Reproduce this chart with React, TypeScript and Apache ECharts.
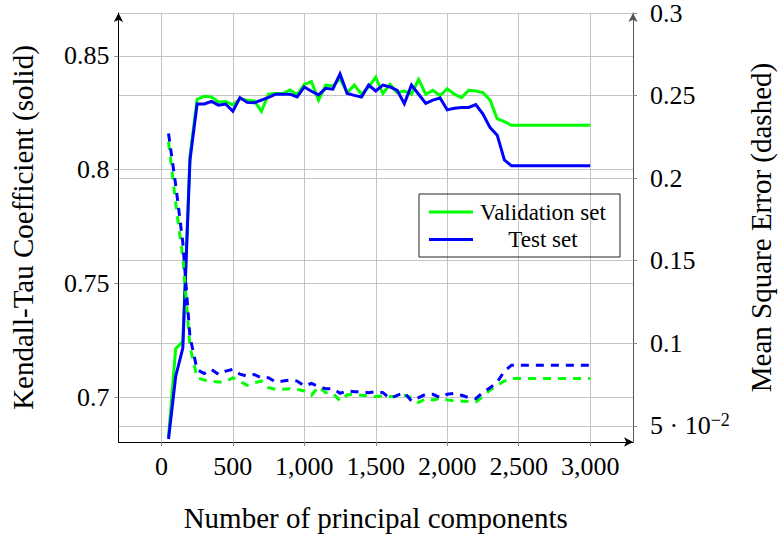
import React, { useEffect, useRef } from 'react';
import * as echarts from 'echarts';

const components = [50, 100, 150, 200, 250, 300, 350, 400, 450, 500, 550, 600, 650, 700, 750, 800, 850, 900, 950, 1000, 1050, 1100, 1150, 1200, 1250, 1300, 1350, 1400, 1450, 1500, 1550, 1600, 1650, 1700, 1750, 1800, 1850, 1900, 1950, 2000, 2050, 2100, 2150, 2200, 2250, 2300, 2350, 2400, 2450, 2500, 2550, 2600, 2650, 2700, 2750, 2800, 2850, 2900, 2950, 3000];

const validationKendall = [
  0.6825, 0.7213, 0.7245, 0.806, 0.831, 0.8323, 0.832, 0.8298, 0.83, 0.8285,
  0.8312, 0.8306, 0.8303, 0.8257, 0.8332, 0.8335, 0.8335, 0.8351, 0.833, 0.8375,
  0.8387, 0.8306, 0.8372, 0.8368, 0.8401, 0.8339, 0.8372, 0.8332, 0.8364, 0.8407,
  0.8335, 0.8375, 0.8339, 0.8346, 0.8332, 0.8397, 0.8332, 0.8349, 0.8325, 0.8356,
  0.8332, 0.8317, 0.8349, 0.8346, 0.8339, 0.8306, 0.8224, 0.8212,
  0.8195, 0.8195, 0.8195, 0.8195, 0.8195, 0.8195, 0.8195, 0.8195, 0.8195, 0.8195, 0.8195, 0.8195,
];

const testKendall = [
  0.6816, 0.7091, 0.7216, 0.8041, 0.8289, 0.8289, 0.83, 0.8284, 0.8289, 0.8257,
  0.8317, 0.8296, 0.8294, 0.8306, 0.8318, 0.8332, 0.8332, 0.8332, 0.832, 0.8364,
  0.8345, 0.8329, 0.8358, 0.8354, 0.8421, 0.8335, 0.8327, 0.832, 0.8372, 0.8346,
  0.8372, 0.8364, 0.8349, 0.829, 0.8372, 0.8332, 0.8292, 0.8306, 0.8315, 0.8263,
  0.827, 0.8274, 0.8274, 0.8286, 0.8245, 0.8185, 0.8152, 0.8043,
  0.8017, 0.8017, 0.8017, 0.8017, 0.8017, 0.8017, 0.8017, 0.8017, 0.8017, 0.8017, 0.8017, 0.8017,
];

const validationMSE = [
  0.222, 0.185, 0.152, 0.098, 0.0791, 0.0777, 0.0769, 0.0765, 0.0767, 0.0791,
  0.0769, 0.0745, 0.0761, 0.0771, 0.0731, 0.0721, 0.0721, 0.0725, 0.0721, 0.0711,
  0.0685, 0.0737, 0.0701, 0.0697, 0.0651, 0.0688, 0.0691, 0.0685, 0.0681, 0.0677,
  0.0681, 0.0677, 0.0677, 0.0685, 0.0671, 0.0641, 0.0665, 0.0657, 0.0665, 0.0657,
  0.0651, 0.0651, 0.0647, 0.0645, 0.0677, 0.0717, 0.0745, 0.0771,
  0.0786, 0.0786, 0.0786, 0.0786, 0.0786, 0.0786, 0.0786, 0.0786, 0.0786, 0.0786, 0.0786, 0.0786,
];

const testMSE = [
  0.227, 0.196, 0.161, 0.104, 0.084, 0.0817, 0.0842, 0.0811, 0.0831, 0.0842,
  0.0813, 0.0801, 0.0811, 0.0791, 0.0791, 0.0765, 0.0771, 0.0777, 0.0771, 0.0741,
  0.0757, 0.0737, 0.0725, 0.0725, 0.0697, 0.0711, 0.0707, 0.0707, 0.0701, 0.0707,
  0.0701, 0.0665, 0.0685, 0.0701, 0.0651, 0.0671, 0.0691, 0.0691, 0.0671, 0.0691,
  0.0697, 0.0685, 0.0671, 0.0665, 0.0701, 0.0731, 0.0765, 0.0831,
  0.0867, 0.0867, 0.0867, 0.0867, 0.0867, 0.0867, 0.0867, 0.0867, 0.0867, 0.0867, 0.0867, 0.0867,
];

const xTicks = [0, 500, 1000, 1500, 2000, 2500, 3000];
const leftTicks = [0.7, 0.75, 0.8, 0.85];
const rightTicks = [0.05, 0.1, 0.15, 0.2, 0.25, 0.3];
const legendNames = ['Validation set', 'Test set'];

const FONT = '"Liberation Serif", "DejaVu Serif", serif';
const GREEN = '#00ff00';
const BLUE = '#0000ff';
const GRID_COLOR = '#c4c4c4';

function pairs(values: number[]) {
  return components.map((x, i) => [x, values[i]]);
}

export default function App() {
  const ref = useRef<HTMLDivElement>(null);

  useEffect(() => {
    if (!ref.current) return;
    const chart = echarts.init(ref.current, undefined, { renderer: 'svg' });
    const tickLabel = { color: '#000', fontFamily: FONT, fontSize: 26 };
    const nameStyle = { color: '#000', fontFamily: FONT, fontSize: 29 };

    chart.setOption({
      animation: false,
      backgroundColor: '#fff',
      grid: { left: 118.5, right: 145.5, top: 12, bottom: 94, containLabel: false },
      legend: {
        data: legendNames.map((name) => ({ name, icon: 'rect' })),
        orient: 'vertical',
        left: 419,
        top: 194,
        padding: [6.5, 12, 6, 10],
        itemWidth: 44,
        itemHeight: 3,
        itemGap: 4.5,
        borderColor: '#222',
        borderWidth: 1,
        backgroundColor: 'transparent',
        selectedMode: false,
        formatter: (name: string) => '{c|' + name + '}',
        textStyle: {
          color: '#000',
          fontFamily: FONT,
          fontSize: 23,
          rich: {
            c: { width: 130, align: 'center', fontFamily: FONT, fontSize: 23, lineHeight: 28, color: '#000' },
          },
        },
      },
      xAxis: {
        type: 'value',
        min: -300,
        max: 3300,
        name: 'Number of principal components',
        nameLocation: 'middle',
        nameGap: 61,
        nameTextStyle: nameStyle,
        axisLine: { show: true, onZero: false, lineStyle: { color: '#000', width: 1 }, symbol: ['none', 'arrow'], symbolSize: [7, 9] },
        axisTick: { show: true, customValues: xTicks, length: 4, lineStyle: { color: '#888' } },
        axisLabel: {
          ...tickLabel,
          customValues: xTicks,
          margin: 11,
          formatter: (v: number) => v.toLocaleString('en-US'),
        },
        splitLine: { show: true, lineStyle: { color: GRID_COLOR, width: 1 } },
      },
      yAxis: [
        {
          type: 'value',
          position: 'left',
          min: 0.6803,
          max: 0.8689,
          name: 'Kendall-Tau Coefficient (solid)',
          nameLocation: 'middle',
          nameRotate: 90,
          nameGap: 81,
          nameTextStyle: nameStyle,
          axisLine: { show: true, onZero: false, lineStyle: { color: '#000', width: 1 }, symbol: ['none', 'arrow'], symbolSize: [7, 9] },
          axisTick: { show: true, customValues: leftTicks, length: 4, lineStyle: { color: '#888' } },
          axisLabel: { ...tickLabel, customValues: leftTicks, margin: 9, formatter: (v: number) => String(v) },
          splitLine: { show: true, lineStyle: { color: GRID_COLOR, width: 1 } },
        },
        {
          type: 'value',
          position: 'right',
          min: 0.0402,
          max: 0.3,
          name: 'Mean Square Error (dashed)',
          nameLocation: 'middle',
          nameRotate: 90,
          nameGap: 113,
          nameTextStyle: nameStyle,
          axisLine: { show: true, onZero: false, lineStyle: { color: '#555', width: 1 }, symbol: ['none', 'arrow'], symbolSize: [7, 9] },
          axisTick: { show: true, customValues: rightTicks, length: 4, lineStyle: { color: '#888' } },
          axisLabel: {
            ...tickLabel,
            customValues: rightTicks,
            margin: 17,
            formatter: (v: number) => (Math.abs(v - 0.05) < 1e-9 ? '{n|5 · 10}{s|−2}' : String(v)),
            rich: {
              n: { fontFamily: FONT, fontSize: 26, color: '#000', lineHeight: 30 },
              s: { fontFamily: FONT, fontSize: 18, color: '#000', verticalAlign: 'top', lineHeight: 16 },
            },
          },
          splitLine: { show: true, lineStyle: { color: GRID_COLOR, width: 1 } },
        },
      ],
      series: [
        {
          name: 'Validation set',
          type: 'line',
          yAxisIndex: 0,
          data: pairs(validationKendall),
          symbol: 'none',
          lineStyle: { color: GREEN, width: 3, join: 'miter' },
          itemStyle: { color: GREEN },
        },
        {
          name: 'Test set',
          type: 'line',
          yAxisIndex: 0,
          data: pairs(testKendall),
          symbol: 'none',
          lineStyle: { color: BLUE, width: 3, join: 'miter' },
          itemStyle: { color: BLUE },
        },
        {
          name: 'Validation set MSE',
          type: 'line',
          yAxisIndex: 1,
          data: pairs(validationMSE),
          symbol: 'none',
          lineStyle: { color: GREEN, width: 3, type: [8, 7], join: 'miter' },
          itemStyle: { color: GREEN },
        },
        {
          name: 'Test set MSE',
          type: 'line',
          yAxisIndex: 1,
          data: pairs(testMSE),
          symbol: 'none',
          lineStyle: { color: BLUE, width: 3, type: [8, 7], join: 'miter' },
          itemStyle: { color: BLUE },
        },
      ],
    });
    return () => chart.dispose();
  }, []);

  return (
    <div
      ref={ref}
      style={{ position: 'fixed', left: 0, top: 0, width: 783, height: 537, background: '#fff' }}
    />
  );
}
